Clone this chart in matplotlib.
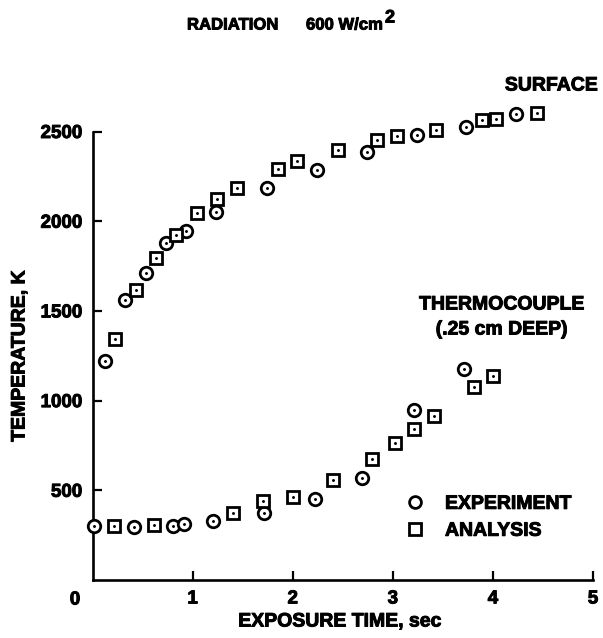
import matplotlib
matplotlib.use("Agg")
import matplotlib.pyplot as plt
import matplotlib.patheffects as pe
from matplotlib.lines import Line2D

plt.rcParams['font.family'] = ['Liberation Sans', 'DejaVu Sans']
plt.rcParams['font.weight'] = 'bold'

# ---- data (exposure time in s, temperature in K) ----
surf_exp_t = [0.12, 0.32, 0.53, 0.73, 0.93, 1.23, 1.74, 2.24, 2.74, 3.24, 3.73, 4.23]
surf_exp_T = [1218, 1559, 1711, 1879, 1946, 2050, 2183, 2284, 2384, 2481, 2526, 2600]
surf_ana_t = [0.22, 0.43, 0.63, 0.83, 1.04, 1.24, 1.44, 1.85, 2.04, 2.45, 2.84, 3.04, 3.43, 3.89, 4.03, 4.44]
surf_ana_T = [1343, 1618, 1793, 1923, 2046, 2124, 2183, 2292, 2336, 2396, 2451, 2477, 2511, 2563, 2571, 2604]

tc_exp_t = [0.01, 0.41, 0.80, 0.91, 1.20, 1.71, 2.22, 2.69, 3.21, 3.71]
tc_exp_T = [301, 298, 301, 312, 327, 376, 454, 569, 949, 1176]
tc_ana_t = [0.21, 0.61, 1.40, 1.70, 2.00, 2.40, 2.79, 3.02, 3.21, 3.41, 3.81, 4.00]
tc_ana_T = [301, 309, 376, 442, 465, 558, 677, 763, 844, 915, 1075, 1138]

x_ticks = [1, 2, 3, 4, 5]
y_ticks = [500, 1000, 1500, 2000, 2500]

W, H = 603, 638
fig = plt.figure(figsize=(W / 100, H / 100), dpi=100)
fig.patch.set_facecolor('white')

heavy = [pe.withStroke(linewidth=0.7, foreground='black')]

ax_l, ax_r, ax_b, ax_t = 92.5, 593, 580, 131.5
ax = fig.add_axes([ax_l / W, 1 - ax_b / H, (ax_r - ax_l) / W, (ax_b - ax_t) / H])
ax.set_xlim(0, 5)
ax.set_ylim(0, 2500)

mk_circle = dict(linestyle='none', marker='o', markersize=9, markerfacecolor='white',
                 markeredgecolor='black', markeredgewidth=2.0, clip_on=False, zorder=3)
mk_square = dict(linestyle='none', marker='s', markersize=9.3, markerfacecolor='white',
                 markeredgecolor='black', markeredgewidth=2.0, clip_on=False, zorder=3)
dot = dict(linestyle='none', marker='.', markersize=2.2, color='black', clip_on=False, zorder=4)

for t, T in [(surf_exp_t, surf_exp_T), (tc_exp_t, tc_exp_T)]:
    ax.plot(t, T, **mk_circle)
    ax.plot(t, T, **dot)
for t, T in [(surf_ana_t, surf_ana_T), (tc_ana_t, tc_ana_T)]:
    ax.plot(t, T, **mk_square)
    ax.plot(t, T, **dot)

for s in ['top', 'right']:
    ax.spines[s].set_visible(False)
for s in ['left', 'bottom']:
    ax.spines[s].set_linewidth(1.9)

ax.set_xticks(x_ticks)
ax.set_xticklabels([str(v) for v in x_ticks])
ax.set_yticks(y_ticks)
ax.set_yticklabels([str(v) for v in y_ticks])
ax.tick_params(axis='both', direction='in', length=6.5, width=1.6, labelsize=13.5)
ax.tick_params(axis='y', pad=7.5)
ax.tick_params(axis='x', pad=7.5)
for lab in ax.get_xticklabels() + ax.get_yticklabels():
    lab.set_path_effects(heavy)

ax.set_xlabel('EXPOSURE TIME, sec', fontsize=14, fontweight='bold')
ax.xaxis.label.set_va('center')
ax.xaxis.set_label_coords((340 - ax_l) / (ax_r - ax_l), (ax_b - 622) / (ax_b - ax_t))
ax.set_ylabel('TEMPERATURE, K', fontsize=14, fontweight='bold')
ax.yaxis.label.set_va('center')
ax.yaxis.set_label_coords((20 - ax_l) / (ax_r - ax_l), (ax_b - 356) / (ax_b - ax_t))
ax.xaxis.label.set_path_effects(heavy)
ax.yaxis.label.set_path_effects(heavy)

texts = []
# shared origin label
texts.append(fig.text(75 / W, 1 - 600 / H, '0', fontsize=13.5, ha='center', va='center'))

# title
texts.append(fig.text(187 / W, 1 - 25 / H, 'RADIATION', fontsize=12, ha='left', va='center'))
texts.append(fig.text(306 / W, 1 - 25 / H, '600 W/cm', fontsize=12, ha='left', va='center'))
texts.append(fig.text(385 / W, 1 - 18 / H, '2', fontsize=13, ha='left', va='center'))

# annotations
texts.append(fig.text(598 / W, 1 - 86 / H, 'SURFACE', fontsize=14, ha='right', va='center'))
texts.append(fig.text(501.7 / W, 1 - 305 / H, 'THERMOCOUPLE', fontsize=14, ha='center', va='center'))
texts.append(fig.text(501.7 / W, 1 - 330 / H, '(.25 cm DEEP)', fontsize=14, ha='center', va='center'))
for t in texts:
    t.set_path_effects(heavy)

handles = [Line2D([], [], linestyle='none', marker='o', markersize=8.5, markerfacecolor='white',
                  markeredgecolor='black', markeredgewidth=2.0),
           Line2D([], [], linestyle='none', marker='s', markersize=8.5, markerfacecolor='white',
                  markeredgecolor='black', markeredgewidth=2.0)]
fs = 14
em = fs * 100 / 72
leg = fig.legend(handles, ['EXPERIMENT', 'ANALYSIS'], loc='center left',
                 bbox_to_anchor=((415 - em / 2) / W, 1 - 517.5 / H),
                 frameon=False, fontsize=fs, handlelength=1.0,
                 handletextpad=(445 - 415 - em / 2) / em, borderpad=0, borderaxespad=0,
                 labelspacing=0.48)
for txt in leg.get_texts():
    txt.set_fontweight('bold')
    txt.set_path_effects(heavy)

fig.savefig('out.png', dpi=100, facecolor='white')
